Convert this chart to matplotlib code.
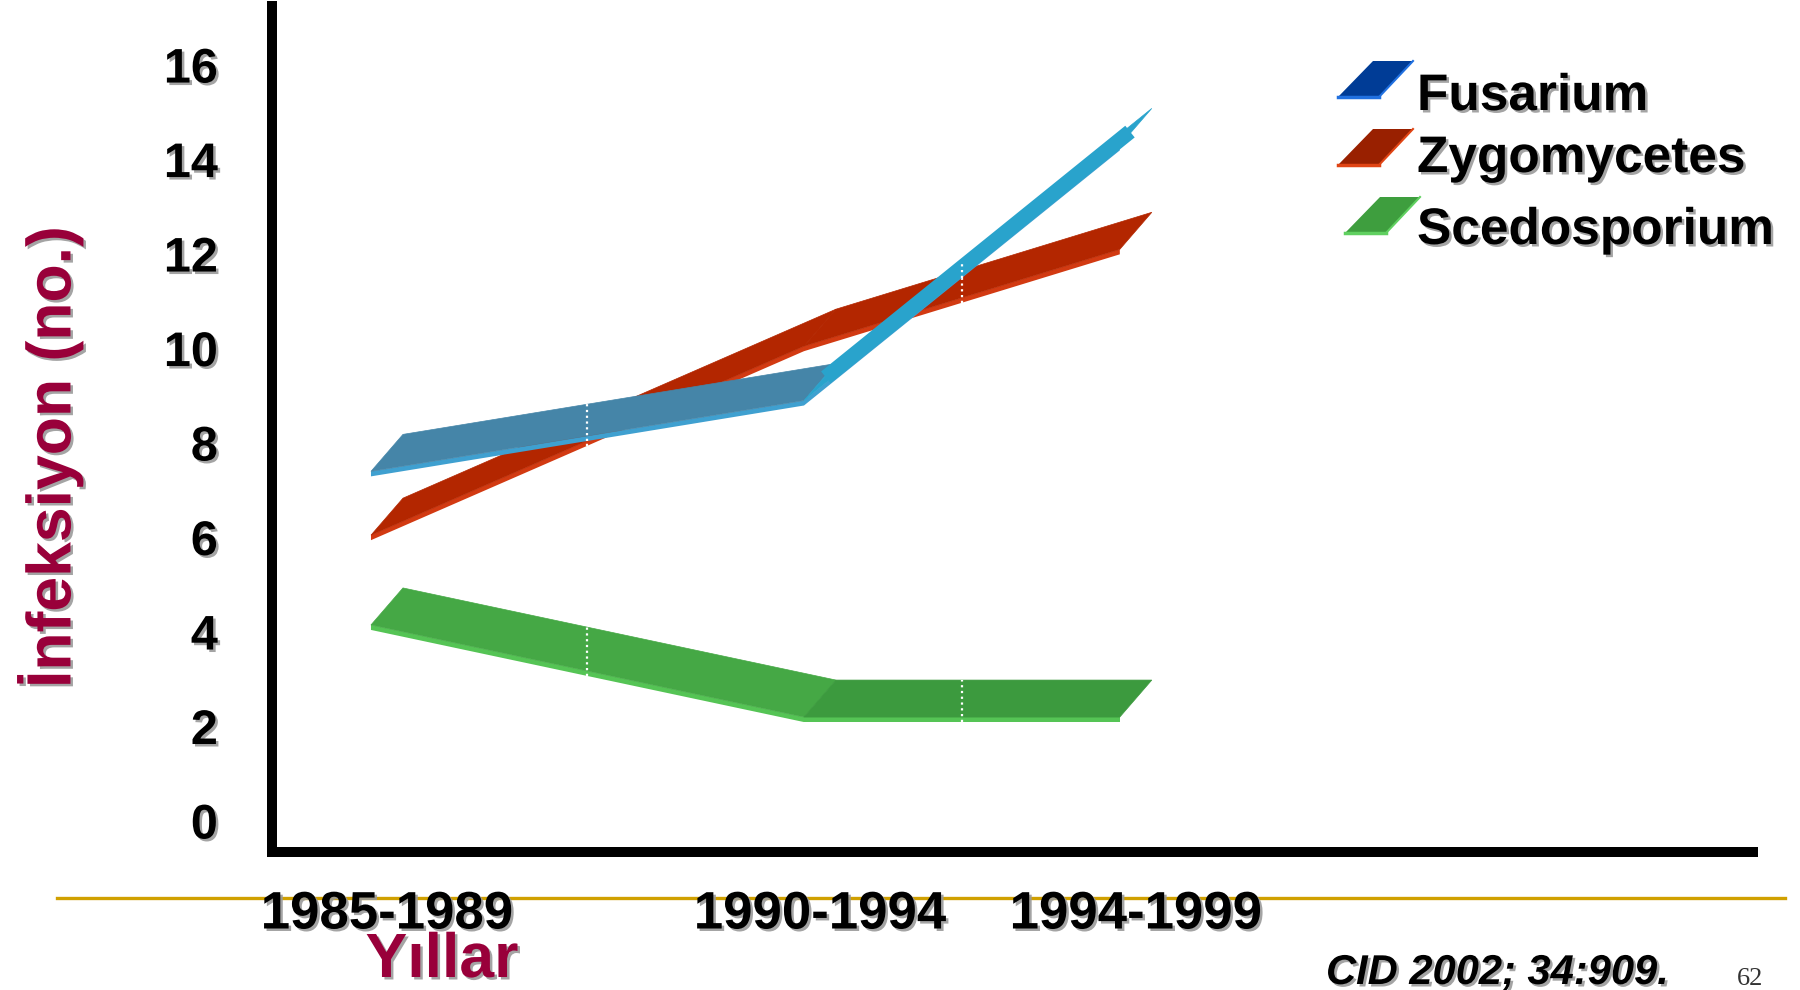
import matplotlib
matplotlib.use("Agg")
import numpy as np
import matplotlib.pyplot as plt
import matplotlib.patheffects as pe
from matplotlib.patches import Polygon
from matplotlib.lines import Line2D

plt.rcParams['font.family'] = ['Liberation Sans', 'DejaVu Sans']

# data (front edge of each 3D ribbon)
categories = ['1985-1989', '1990-1994', '1994-1999']
fusarium = [7.4, 8.9, 14.3]
zygomycetes = [6.05, 10.05, 12.1]
scedosporium = [4.15, 2.2, 2.2]
series_names = ['Fusarium', 'Zygomycetes', 'Scedosporium']
y_ticks = [0, 2, 4, 6, 8, 10, 12, 14, 16]

W, H = 1800, 990
fig = plt.figure(figsize=(18, 9.9), dpi=100)
ax = fig.add_axes([272 / W, 138 / H, 1481 / W, 846 / H])
ax.patch.set_visible(False)
xlim = (-0.2286, 3.1917)
ylim = (-0.656, 17.25)
ax.set_xlim(*xlim)
ax.set_ylim(*ylim)

# the old 3d chart is drawn in perspective: categories get closer further right
persp = 0.1855
xpos = [i * (1 + persp) / (1 + persp * i) for i in range(len(categories))]

# 3d depth of the ribbons, in pixels -> data units
px_x = 1481 / (xlim[1] - xlim[0])
px_y = 846 / (ylim[1] - ylim[0])
ddx = 32 / px_x
ddy = 37 / px_y
thick = 5 / px_y
min_w = 15  # px, smallest visible ribbon width

shadow = [pe.withSimplePatchShadow(offset=(1.8, -1.8), shadow_rgbFace='#9a9a9a', alpha=0.9)]


def ribbon(ys, top_cols, edge_col, z):
    for i in range(len(xpos) - 1):
        x0, x1, y0, y1 = xpos[i], xpos[i + 1], ys[i], ys[i + 1]
        zz = z + i * 0.2
        ax.add_patch(Polygon([(x0, y0), (x1, y1), (x1, y1 - thick), (x0, y0 - thick)],
                             closed=True, fc=edge_col, ec='none', zorder=zz))
        ax.add_patch(Polygon([(x0, y0), (x1, y1), (x1 + ddx, y1 + ddy), (x0 + ddx, y0 + ddy)],
                             closed=True, fc=top_cols[i], ec=top_cols[i], lw=0.5, zorder=zz + 0.05))
        # steep segments seen nearly edge-on: keep a visible width
        sx, sy = (x1 - x0) * px_x, (y1 - y0) * px_y
        seg_len = np.hypot(sx, sy)
        width = abs(sx * ddy * px_y - sy * ddx * px_x) / seg_len
        if width < min_w:
            cut = min_w / 2 / seg_len
            mx0, my0 = x0 + ddx / 2, y0 + ddy / 2
            ax.plot([mx0 + (x1 - x0) * cut, mx0 + (x1 - x0) * (1 - cut)],
                    [my0 + (y1 - y0) * cut, my0 + (y1 - y0) * (1 - cut)],
                    color=top_cols[i], lw=min_w * 0.72, solid_capstyle='butt', zorder=zz + 0.06)
        xm = (x0 + x1) / 2
        slope = (y1 - y0) / (x1 - x0)
        yf = y0 + slope * (xm - x0)
        yb = y0 + slope * (xm - ddx - x0) + ddy
        ax.plot([xm, xm], [yf - thick, yb], color='white', ls=(0, (1, 1.6)), lw=1.6, zorder=zz + 0.1)


ribbon(scedosporium, ['#45A845', '#3C9A3E'], '#55C455', 2)
ribbon(zygomycetes, ['#B32600', '#B32600'], '#D23A12', 3)
ribbon(fusarium, ['#4585A8', '#29A3CC'], '#3FA0D0', 4)

# axes styling
for s in ['top', 'right']:
    ax.spines[s].set_visible(False)
for s in ['left', 'bottom']:
    ax.spines[s].set_linewidth(7.2)
    ax.spines[s].set_color('black')
    ax.spines[s].set_capstyle('projecting')

ax.set_yticks(y_ticks)
ax.set_yticklabels([str(v) for v in y_ticks])
ax.set_xticks([x + ddx / 2 for x in xpos])
ax.set_xticklabels(categories)
ax.tick_params(axis='y', length=0, pad=39, labelsize=35)
ax.tick_params(axis='x', length=0, pad=27, labelsize=38)
for lbl in ax.get_xticklabels() + ax.get_yticklabels():
    lbl.set_fontweight('bold')
    lbl.set_path_effects(shadow)

# gold rule under the axis
fig.add_artist(Line2D([57 / W, 1785 / W], [(H - 898) / H] * 2, color='#D0A000', lw=2.4, zorder=-1))

# axis titles
fig.text(50 / W, (H - 457) / H, 'İnfeksiyon (no.)', rotation=90, ha='center', va='center',
         fontsize=45, fontweight='bold', color='#99003A', path_effects=shadow)
fig.text(442 / W, (H - 977) / H, 'Yıllar', ha='center', va='baseline',
         fontsize=45, fontweight='bold', color='#99003A', path_effects=shadow)

# legend
leg_cols = [('#003C96', '#2070E0'), ('#992000', '#E04414'), ('#3E9E3E', '#60D060')]
leg_base = [(1338, 97, 61), (1338, 165, 129), (1345, 233, 197)]
leg_text_y = [110, 172, 244]
for (fc, ec), (xb, yb, yt), ty, name in zip(leg_cols, leg_base, leg_text_y, series_names):
    pts = [(xb, yb), (xb + 41, yb), (xb + 75, yt), (xb + 35, yt)]
    fig.add_artist(Polygon([(px / W, (H - py) / H) for px, py in pts], closed=True,
                           fc=fc, ec='none', transform=fig.transFigure))
    fig.add_artist(Line2D([xb / W, (xb + 41) / W], [(H - yb) / H] * 2, color=ec, lw=2.5))
    fig.add_artist(Line2D([(xb + 41) / W, (xb + 75) / W], [(H - yb) / H, (H - yt) / H], color=ec, lw=1.5))
    fig.text(1417 / W, (H - ty) / H, name, ha='left', va='baseline', fontsize=37,
             fontweight='bold', color='black', path_effects=shadow)

fig.text(1326 / W, (H - 984) / H, 'CID 2002; 34:909.', ha='left', va='baseline', fontsize=30,
         fontweight='bold', fontstyle='italic', color='black', path_effects=shadow)
fig.text(1737 / W, (H - 968) / H, '62', ha='left', va='top', fontsize=19,
         family=['Liberation Serif', 'DejaVu Serif'], color='#333333')

fig.savefig('out.png', dpi=100)
